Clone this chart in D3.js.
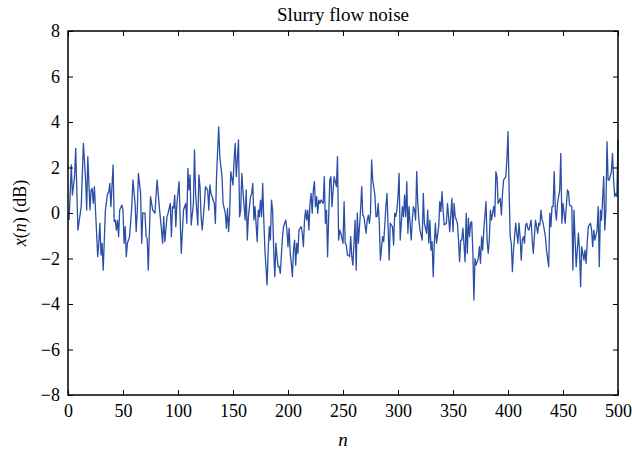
<!DOCTYPE html>
<html>
<head>
<meta charset="utf-8">
<script src="https://cdn.jsdelivr.net/npm/d3@7"></script>
<style>
  body { margin: 0; background: #fff; }
  text { font-family: "Liberation Serif", "DejaVu Serif", serif; }
</style>
</head>
<body>
<div id="chart"></div>
<script>
// sample index n and the noise value x(n) in dB
const sampleN = [
  1,3,4,6,7,9,12,14,16,17,18,20,21,22,23,24,25,27,28,29,30,31,32,34,36,37,38,39,41,42,
  43,44,45,46,47,49,50,51,52,53,54,56,58,59,61,62,63,64,66,67,68,70,71,72,73,74,75,77,79,81,
  83,85,86,87,88,90,91,93,94,95,96,97,98,99,101,102,103,105,107,108,109,110,111,112,114,115,116,118,119,120,
  121,122,124,125,126,127,128,129,130,132,133,134,135,137,138,140,141,143,144,145,146,147,148,150,151,152,153,155,156,157,
  158,159,161,162,163,164,165,166,167,168,169,170,172,173,174,175,176,177,178,179,181,182,183,184,185,186,187,188,189,190,
  191,192,193,195,196,197,198,199,200,201,202,203,204,205,206,207,208,209,210,212,213,214,215,216,217,218,219,220,221,222,
  223,224,225,226,227,228,229,230,232,233,234,235,236,237,238,239,240,241,242,244,245,246,247,248,250,251,252,253,254,255,
  256,257,258,259,261,262,263,264,266,267,268,269,271,272,273,274,275,276,277,279,280,281,282,283,284,286,287,288,289,290,
  291,292,293,295,296,297,298,299,300,301,302,304,305,306,307,308,309,310,312,313,314,315,316,317,318,319,320,322,323,324,
  326,327,328,329,330,331,332,333,334,335,337,338,339,340,341,342,344,345,346,347,349,350,351,352,354,355,356,357,358,359,
  361,362,363,364,365,366,367,368,369,370,371,373,374,375,376,377,378,380,381,382,383,384,385,387,388,389,390,391,393,394,
  395,396,398,399,400,401,402,403,404,405,406,407,409,410,411,412,413,414,415,416,417,418,419,421,422,423,424,425,427,428,
  429,430,431,432,434,435,437,438,439,440,441,442,443,444,445,446,447,448,449,450,452,453,454,455,456,458,459,460,461,462,
  464,465,466,467,469,470,471,472,473,475,476,477,478,479,481,482,483,484,485,486,487,488,489,490,491,492,494,495,496,497,
  498,499,500
];
const noiseDb = [
  -0.31,2.11,0.79,1.60,2.84,-0.75,0.28,3.06,1.45,0.13,2.48,0.13,1.01,1.08,0.42,1.16,0.13,-1.92,-1.33,-0.45,-1.85,-1.33,-2.51,0.13,0.86,0.90,1.30,0.28,2.11,-0.38,
  -0.31,-0.75,-0.31,-1.04,0.13,0.35,0.13,-1.33,-0.60,-1.92,-1.33,-1.04,0.28,1.45,0.42,-0.82,0.13,1.74,0.86,-1.33,0.00,-0.01,-1.04,-1.11,-2.51,-0.89,0.72,0.13,-0.01,1.45,
  0.28,-0.75,-1.33,-0.16,-1.26,-0.16,-0.01,0.42,-1.04,0.28,0.21,0.79,-0.60,0.42,1.38,-0.31,-1.77,0.13,0.42,-0.45,1.96,1.01,1.67,-0.53,0.42,2.77,0.86,-0.53,1.67,1.16,
  -0.16,-0.75,0.42,1.16,1.08,1.01,0.13,1.23,0.86,0.57,0.42,-0.45,1.60,3.79,2.48,1.60,0.42,-0.01,-0.67,0.21,-0.82,-0.01,1.82,1.23,2.33,3.06,1.60,3.21,-0.16,0.13,
  1.74,1.01,-0.31,1.01,-1.19,-0.16,0.28,0.72,0.86,1.30,-0.31,0.28,-1.26,0.13,-0.16,0.57,-0.16,1.30,-0.31,-1.63,-3.16,-1.63,-0.60,-1.19,0.57,0.13,-1.63,-2.80,-1.33,-1.92,
  -2.36,-2.36,-2.65,-1.04,-0.60,-0.45,-0.31,-0.75,-1.48,-0.67,-1.77,-2.21,-2.80,-1.63,-1.19,-2.29,-1.33,-1.77,-0.75,-0.60,-0.89,-1.48,-0.31,0.13,-0.31,0.13,-0.75,0.42,0.86,-0.01,
  1.01,1.38,0.28,0.72,-0.01,0.57,0.42,0.57,0.42,1.60,-0.45,0.13,-1.92,-0.16,1.45,1.60,0.28,1.01,1.60,1.16,2.48,-1.19,-0.75,-0.89,-1.33,0.50,-1.33,-1.41,-1.85,-1.85,
  -1.92,-1.04,-1.92,-2.29,-0.31,-2.51,-0.01,-1.33,0.13,1.16,-0.09,-0.16,-0.89,-0.31,-0.09,-0.45,-0.01,2.33,1.45,0.79,-0.16,-0.16,0.42,-0.45,-2.07,-1.04,-1.26,-0.53,0.28,0.86,
  -0.60,-2.07,-0.45,-0.60,-1.41,-0.01,-0.16,0.13,0.72,1.74,-1.19,0.28,-0.16,0.79,-0.16,1.38,-0.89,0.28,-1.19,-0.31,0.28,0.13,-0.31,1.82,0.42,-0.31,-0.75,-1.19,0.86,-0.45,
  -0.89,0.13,-1.33,-0.31,-1.63,-1.26,-2.80,-1.33,-0.45,-1.33,-0.60,0.50,0.06,0.94,0.13,-0.53,-0.45,0.42,-0.16,-0.82,0.64,-0.82,0.42,-0.16,-0.45,-1.19,-2.14,-1.19,-1.19,-0.67,
  -2.14,-0.01,-1.77,-0.23,-1.04,-0.45,-0.38,-1.63,-3.82,-2.00,-2.29,-2.00,-1.48,-2.21,-1.04,-1.63,-0.75,0.50,-1.19,-1.77,-1.19,0.13,-0.31,0.28,-0.16,1.82,1.60,0.42,0.64,-0.09,
  0.86,1.45,1.60,2.33,3.58,1.01,-1.04,-1.33,-2.58,-1.63,-1.04,-0.45,-1.33,-0.45,-1.04,-2.07,-1.19,-1.04,-1.33,-0.53,-0.45,-0.67,-0.75,-0.31,-1.19,-1.77,-1.04,-0.31,-0.89,-0.45,
  -0.53,0.13,-0.31,-0.45,-1.04,-1.63,-2.36,-0.01,-0.60,0.28,0.28,1.82,0.13,-0.31,0.42,0.72,1.01,2.62,-0.45,0.42,-0.45,0.28,1.01,0.94,0.35,0.28,-2.51,0.13,-1.19,-2.36,
  -0.89,-1.63,-3.24,-1.48,-2.07,-1.63,-2.21,-1.33,-0.60,-0.45,-0.75,-1.48,-0.75,-1.19,-0.75,0.28,-2.36,0.13,-0.31,0.57,1.60,-0.75,0.13,3.14,1.45,1.45,1.82,2.62,1.45,0.72,
  0.86,0.72,3.21
];
const xTicks = [0, 50, 100, 150, 200, 250, 300, 350, 400, 450, 500];
const yTicks = [-8, -6, -4, -2, 0, 2, 4, 6, 8];
const chartTitle = "Slurry flow noise";

const margin = { top: 31, right: 14, bottom: 62, left: 68 };
const width = 632 - margin.left - margin.right;
const height = 457 - margin.top - margin.bottom;

const data = sampleN.map((n, i) => ({ n: n, v: noiseDb[i] }));

const svg = d3.select("#chart")
  .append("svg")
  .attr("width", 632)
  .attr("height", 457);

const g = svg.append("g")
  .attr("transform", "translate(" + margin.left + "," + margin.top + ")");

const xScale = d3.scaleLinear().domain([0, 500]).range([0, width]);
const yScale = d3.scaleLinear().domain([-8, 8]).range([height, 0]);

// the noise trace
const line = d3.line()
  .x(d => xScale(d.n))
  .y(d => yScale(d.v));

g.append("path")
  .datum(data)
  .attr("fill", "none")
  .attr("stroke", "#2b4ea6")
  .attr("stroke-width", 1.3)
  .attr("stroke-linejoin", "round")
  .attr("d", line);

// axes with inward ticks on all four sides
g.append("g")
  .attr("class", "axis")
  .attr("transform", "translate(0," + height + ")")
  .call(d3.axisBottom(xScale).tickValues(xTicks).tickSize(-5).tickPadding(9).tickFormat(d3.format("")));
g.append("g")
  .attr("class", "axis")
  .call(d3.axisTop(xScale).tickValues(xTicks).tickSize(-5).tickFormat(""));
g.append("g")
  .attr("class", "axis")
  .call(d3.axisLeft(yScale).tickValues(yTicks).tickSize(-5).tickPadding(8).tickFormat(d3.format("")));
g.append("g")
  .attr("class", "axis")
  .attr("transform", "translate(" + width + ",0)")
  .call(d3.axisRight(yScale).tickValues(yTicks).tickSize(-5).tickFormat(""));

g.selectAll(".axis path").remove();
g.selectAll(".axis line").attr("stroke", "#000").attr("stroke-width", 1);
g.selectAll(".axis text")
  .attr("fill", "#000")
  .style("font-size", "18px")
  .style("font-family", "'Liberation Serif', serif");

// frame
g.append("rect")
  .attr("width", width)
  .attr("height", height)
  .attr("fill", "none")
  .attr("stroke", "#000")
  .attr("stroke-width", 1.5);

// title and axis labels
svg.append("text")
  .attr("x", margin.left + width / 2)
  .attr("y", 21)
  .attr("text-anchor", "middle")
  .style("font-size", "19px")
  .text(chartTitle);

svg.append("text")
  .attr("x", margin.left + width / 2)
  .attr("y", 446)
  .attr("text-anchor", "middle")
  .style("font-size", "19px")
  .style("font-style", "italic")
  .text("n");

const yLab = svg.append("text")
  .attr("transform", "translate(26," + (margin.top + height / 2) + ") rotate(-90)")
  .attr("text-anchor", "middle")
  .style("font-size", "18px");
yLab.append("tspan").style("font-style", "italic").text("x");
yLab.append("tspan").text("(");
yLab.append("tspan").style("font-style", "italic").text("n");
yLab.append("tspan").text(") (dB)");
</script>
</body>
</html>
